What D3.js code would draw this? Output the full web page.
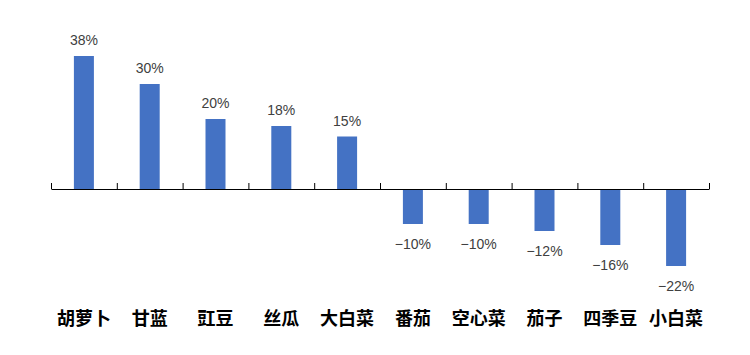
<!DOCTYPE html>
<html>
<head>
<meta charset="utf-8">
<script src="https://cdn.jsdelivr.net/npm/d3@7"></script>
<style>
  html, body { margin: 0; padding: 0; background: #fff; }
  svg { display: block; }
</style>
</head>
<body>
<svg id="chart" width="750" height="355"></svg>
<script>
const categories = ["胡萝卜", "甘蓝", "豇豆", "丝瓜", "大白菜", "番茄", "空心菜", "茄子", "四季豆", "小白菜"];
const values = [38, 30, 20, 18, 15, -10, -10, -12, -16, -22];

const svg = d3.select("#chart");
const left = 51, right = 709;
const zeroY = 189, pxPerUnit = 3.5;

const x = d3.scaleBand().domain(categories).range([left, right]).paddingInner(0).paddingOuter(0);
const y = d3.scaleLinear().domain([-25, 40]).range([zeroY + 25 * pxPerUnit, zeroY - 40 * pxPerUnit]);
const barW = 20;

// bars
svg.append("g").selectAll("rect").data(values).join("rect")
  .attr("x", (d, i) => x(categories[i]) + x.bandwidth() / 2 - barW / 2)
  .attr("y", d => Math.min(y(d), y(0)))
  .attr("width", barW)
  .attr("height", d => Math.abs(y(d) - y(0)))
  .attr("fill", "#4472C4");

// axis with ticks at category boundaries, pointing up
const idx = d3.scaleLinear().domain([0, categories.length]).range([left, right]);
const axis = d3.axisTop(idx).tickValues(d3.range(categories.length + 1)).tickFormat("").tickSizeInner(6).tickSizeOuter(0);
const ag = svg.append("g").attr("transform", `translate(0,${y(0)})`).call(axis);
ag.selectAll("path, line").attr("stroke", "#000").attr("stroke-width", 1);

// value labels
const fmt = d3.format("d");
svg.append("g").selectAll("text").data(values).join("text")
  .attr("x", (d, i) => x(categories[i]) + x.bandwidth() / 2)
  .attr("y", d => d >= 0 ? y(d) - 11 : y(d) + 25)
  .attr("text-anchor", "middle")
  .attr("font-family", "Liberation Sans, Arial, sans-serif")
  .attr("font-size", 14)
  .attr("fill", "#404040")
  .text(d => fmt(d) + "%");

// category labels
svg.append("g").selectAll("text").data(categories).join("text")
  .attr("x", d => x(d) + x.bandwidth() / 2)
  .attr("y", 325)
  .attr("text-anchor", "middle")
  .attr("font-family", "Noto Sans CJK SC, sans-serif")
  .attr("font-weight", "bold")
  .attr("font-size", 18)
  .attr("fill", "#000")
  .text(d => d);
</script>
</body>
</html>
